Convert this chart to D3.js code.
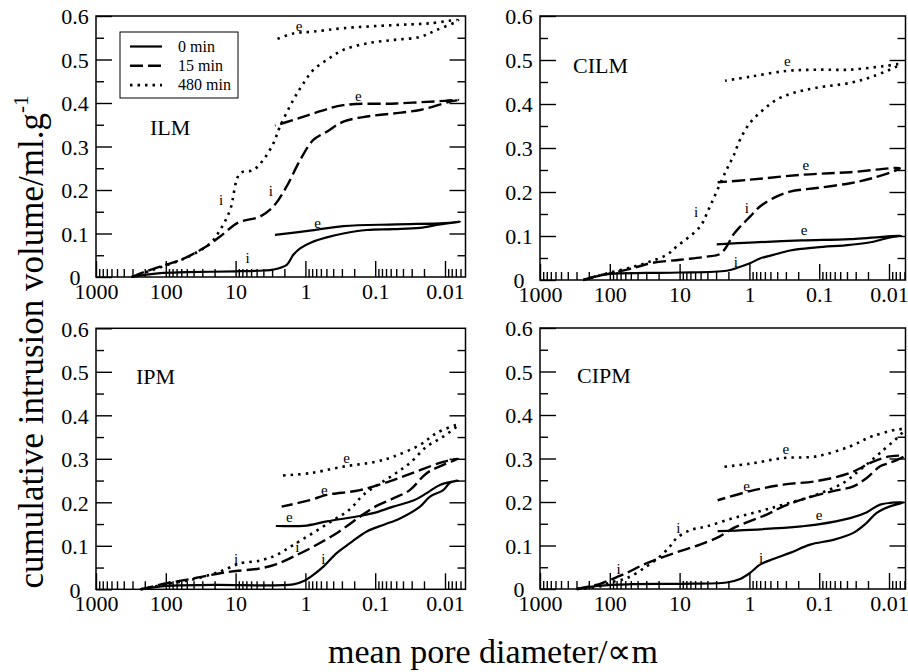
<!DOCTYPE html>
<html><head><meta charset="utf-8">
<script src="https://cdn.jsdelivr.net/npm/d3@7"></script>
<style>body{margin:0;background:#fff} svg{display:block} text{font-family:'Liberation Serif','Times New Roman',Times,serif}</style>
</head><body><svg id="c" width="908" height="672"></svg>
<script>
// ---------- DATA ----------
const categories = ["ILM", "CILM", "IPM", "CIPM"];
const seriesNames = ["0 min", "15 min", "480 min"];
const xTickValues = [1000, 100, 10, 1, 0.1, 0.01];
const xTickLabels = ["1000", "100", "10", "1", "0.1", "0.01"];
const yTickValues = [0, 0.1, 0.2, 0.3, 0.4, 0.5, 0.6];
const yTickLabels = ["0", "0.1", "0.2", "0.3", "0.4", "0.5", "0.6"];
const yMinorValues = [0.05, 0.15, 0.25, 0.35, 0.45, 0.55];

// [mean pore diameter (µm), cumulative volume (ml/g)]
// intrusion: from large to small diameter; extrusion: from small to large diameter
const ilm0In = [[309,0],[200,0.005],[120,0.009],[50,0.011],[10,0.013],[4,0.015],[2.9,0.017],[1.85,0.028],[1.49,0.051],[1.19,0.066],[0.81,0.080],[0.495,0.091],[0.286,0.100],[0.132,0.108],[0.055,0.110],[0.0228,0.113],[0.0118,0.121],[0.0061,0.127]];
const ilm0Ex = [[0.0061,0.127],[0.01,0.124],[0.05,0.121],[0.286,0.117],[0.81,0.107],[2.73,0.097]];
const ilm15In = [[309,0],[200,0.012],[121,0.024],[60,0.040],[29,0.066],[16.7,0.093],[10.8,0.118],[8.65,0.127],[4.47,0.139],[2.88,0.162],[1.86,0.208],[1.19,0.269],[0.77,0.315],[0.495,0.334],[0.286,0.357],[0.132,0.369],[0.055,0.376],[0.0228,0.384],[0.0085,0.403],[0.0065,0.407]];
const ilm15Ex = [[0.0065,0.407],[0.01,0.405],[0.05,0.399],[0.286,0.395],[0.77,0.376],[1.49,0.361],[2.73,0.348]];
const ilm480In = [[309,0],[200,0.010],[121,0.022],[50,0.045],[23.3,0.077],[16.7,0.108],[12,0.154],[8.65,0.238],[5.57,0.246],[4.01,0.269],[2.88,0.307],[2.31,0.346],[1.49,0.407],[1.07,0.445],[0.77,0.476],[0.495,0.499],[0.286,0.522],[0.132,0.537],[0.055,0.545],[0.0228,0.552],[0.0131,0.568],[0.0065,0.59]];
const ilm480Ex = [[0.0065,0.59],[0.017,0.583],[0.055,0.579],[0.286,0.572],[0.77,0.564],[1.49,0.56],[2.73,0.545]];

const cilm0In = [[240,0],[140,0.010],[99,0.014],[30,0.016],[10,0.017],[2.12,0.021],[1.36,0.030],[0.98,0.038],[0.705,0.049],[0.455,0.057],[0.262,0.067],[0.109,0.074],[0.036,0.080],[0.0168,0.087],[0.0097,0.097],[0.0067,0.101]];
const cilm0Ex = [[0.0067,0.101],[0.036,0.093],[0.18,0.090],[0.98,0.085],[2.94,0.081]];
const cilm15In = [[240,0],[138,0.011],[99,0.015],[46,0.027],[26.5,0.038],[9.87,0.046],[4.09,0.053],[2.64,0.059],[2.12,0.076],[1.70,0.103],[1.36,0.121],[0.98,0.144],[0.705,0.167],[0.455,0.186],[0.262,0.201],[0.109,0.209],[0.036,0.220],[0.0168,0.232],[0.007,0.254]];
const cilm15Ex = [[0.007,0.254],[0.036,0.245],[0.18,0.239],[0.98,0.228],[2.85,0.222]];
const cilm480In = [[240,0],[140,0.010],[99,0.017],[46,0.030],[26.5,0.042],[15.3,0.057],[11,0.076],[5.1,0.121],[3.88,0.159],[2.94,0.201],[2.12,0.251],[1.70,0.281],[1.36,0.319],[0.98,0.357],[0.632,0.387],[0.407,0.410],[0.235,0.425],[0.109,0.437],[0.036,0.448],[0.0168,0.463],[0.007,0.490]];
const cilm480Ex = [[0.007,0.490],[0.012,0.486],[0.036,0.478],[0.109,0.478],[0.30,0.475],[0.98,0.462],[2.23,0.453]];

const ipm0In = [[230,0],[97,0.008],[20,0.010],[1.49,0.0115],[1.0,0.021],[0.77,0.033],[0.553,0.052],[0.357,0.083],[0.23,0.106],[0.132,0.133],[0.0766,0.148],[0.0441,0.163],[0.0228,0.190],[0.0164,0.213],[0.0106,0.228],[0.0085,0.245],[0.0065,0.25]];
const ipm0Ex = [[0.0065,0.25],[0.0118,0.240],[0.0183,0.221],[0.0284,0.204],[0.055,0.190],[0.107,0.175],[0.16,0.169],[0.495,0.156],[1.05,0.146],[2.65,0.146]];
const ipm15In = [[230,0],[97,0.0138],[40,0.025],[16.7,0.037],[10,0.042],[4.47,0.048],[2.58,0.058],[1.49,0.075],[0.77,0.098],[0.357,0.129],[0.165,0.167],[0.1,0.19],[0.055,0.209],[0.032,0.228],[0.0183,0.267],[0.0106,0.286],[0.0065,0.30]];
const ipm15Ex = [[0.0065,0.30],[0.0106,0.293],[0.0228,0.274],[0.055,0.251],[0.165,0.228],[0.495,0.217],[0.86,0.205],[2.19,0.19]];
const ipm480In = [[230,0],[97,0.012],[40,0.023],[16.7,0.041],[10,0.056],[8.6,0.060],[4.47,0.066],[2.58,0.079],[1.49,0.102],[0.77,0.130],[0.398,0.159],[0.23,0.184],[0.148,0.217],[0.055,0.263],[0.032,0.290],[0.0183,0.328],[0.0106,0.351],[0.0065,0.378]];
const ipm480Ex = [[0.0065,0.378],[0.013,0.36],[0.0228,0.332],[0.055,0.305],[0.1,0.293],[0.286,0.282],[0.86,0.267],[2.44,0.261]];

const cipm0In = [[298,0],[138,0.0077],[50,0.011],[10,0.012],[2.12,0.015],[1.36,0.023],[0.98,0.037],[0.705,0.056],[0.455,0.069],[0.262,0.083],[0.135,0.102],[0.063,0.113],[0.0324,0.129],[0.0209,0.152],[0.015,0.175],[0.0097,0.19],[0.0062,0.199]];
const cipm0Ex = [[0.0062,0.199],[0.0134,0.194],[0.021,0.176],[0.036,0.163],[0.109,0.148],[0.18,0.144],[0.98,0.136],[2.85,0.133]];
const cipm15In = [[298,0],[138,0.012],[99,0.021],[57.3,0.037],[33.1,0.056],[19.1,0.071],[9.87,0.087],[5.1,0.102],[2.64,0.121],[1.70,0.140],[0.98,0.156],[0.565,0.171],[0.327,0.190],[0.151,0.209],[0.063,0.225],[0.0324,0.236],[0.0209,0.255],[0.0134,0.282],[0.0097,0.290],[0.0062,0.305]];
const cipm15Ex = [[0.0062,0.305],[0.0097,0.305],[0.0168,0.293],[0.036,0.267],[0.109,0.248],[0.327,0.240],[0.98,0.225],[2.85,0.204]];
const cipm480In = [[298,0],[138,0.006],[99,0.015],[57,0.025],[29.6,0.052],[19.1,0.075],[13.7,0.098],[11,0.117],[7.1,0.135],[4.09,0.144],[1.70,0.163],[0.705,0.179],[0.327,0.194],[0.109,0.217],[0.045,0.244],[0.026,0.274],[0.0134,0.313],[0.0062,0.366]];
const cipm480Ex = [[0.0062,0.366],[0.0168,0.352],[0.036,0.328],[0.109,0.305],[0.327,0.301],[0.98,0.288],[2.64,0.280]];

// curve annotations: [diameter, volume, text]
const ilmNotes = [[1.23,0.575,"e"],[0.174,0.414,"e"],[0.67,0.123,"e"],[16.2,0.177,"i"],[3.13,0.196,"i"],[6.75,0.043,"i"]];
const cilmNotes = [[0.286,0.497,"e"],[0.155,0.260,"e"],[0.165,0.112,"e"],[5.82,0.153,"i"],[1.09,0.163,"i"],[1.56,0.039,"i"]];
const ipmNotes = [[0.256,0.301,"e"],[0.535,0.228,"e"],[1.70,0.166,"e"],[9.87,0.069,"i"],[1.30,0.096,"i"],[0.553,0.069,"i"]];
const cipmNotes = [[0.3,0.320,"e"],[1.1,0.236,"e"],[0.1,0.169,"e"],[10.4,0.140,"i"],[75,0.044,"i"],[0.68,0.071,"i"]];

const xTitle = "mean pore diameter/\u221Dm";
const yTitle = "cumulative intrusion volume/ml.g";
const yTitleSup = "-1";

// ---------- LAYOUT ----------
const FONT = "'Liberation Serif','Times New Roman',Times,serif";
const boxes = [
  {l:96, r:465.5, t:16, b:277, lx:54, ly:119},
  {l:540, r:905.5, t:16, b:280, lx:33, ly:57},
  {l:96, r:465.5, t:328.3, b:589.3, lx:40, ly:56},
  {l:540, r:905.5, t:328, b:589, lx:37, ly:55}
];
const DEC = 69.8; // px per decade
const dashes = [null, "13,5", "2.5,5"];
const widths = [2.2, 2.4, 2.6];

const panels = [
  {series:[[ilm0In,ilm0Ex],[ilm15In,ilm15Ex],[ilm480In,ilm480Ex]], notes: ilmNotes},
  {series:[[cilm0In,cilm0Ex],[cilm15In,cilm15Ex],[cilm480In,cilm480Ex]], notes: cilmNotes},
  {series:[[ipm0In,ipm0Ex],[ipm15In,ipm15Ex],[ipm480In,ipm480Ex]], notes: ipmNotes},
  {series:[[cipm0In,cipm0Ex],[cipm15In,cipm15Ex],[cipm480In,cipm480Ex]], notes: cipmNotes}
];

const svg = d3.select("#c");
svg.append("rect").attr("width",908).attr("height",672).attr("fill","#fff");

function styleAxis(sel){
  sel.attr("font-family",null).attr("font-size",null);
  sel.select(".domain").remove();
  sel.selectAll("line").attr("stroke","#000").attr("stroke-width",1.4);
  sel.selectAll("text").style("font-family",FONT).style("font-size","22px").attr("fill","#000");
}

panels.forEach((p,k)=>{
  const b = boxes[k];
  const xmin = Math.pow(10, 3 - (b.r-b.l)/DEC);
  const x = d3.scaleLog().domain([1000, xmin]).range([b.l, b.r]);
  const y = d3.scaleLinear().domain([0, 0.6]).range([b.b, b.t]);
  const g = svg.append("g");

  const minors = [];
  for (let e=-3; e<3; e++) for (let m=2; m<=9; m++){
    const v = m*Math.pow(10,e);
    if (v < 1000 && v > xmin) minors.push(v);
  }
  g.append("g").attr("transform",`translate(0,${b.b})`)
    .call(d3.axisBottom(x).tickValues(minors).tickSize(-8).tickFormat(""))
    .call(styleAxis);
  g.append("g").attr("transform",`translate(0,${b.b})`)
    .call(d3.axisBottom(x).tickValues(xTickValues).tickSize(-16).tickPadding(6).tickFormat((d,i)=>xTickLabels[i]))
    .call(styleAxis);

  g.append("g").attr("transform",`translate(${b.l},0)`)
    .call(d3.axisLeft(y).tickValues(yMinorValues).tickSize(-8).tickFormat(""))
    .call(styleAxis);
  g.append("g").attr("transform",`translate(${b.l},0)`)
    .call(d3.axisLeft(y).tickValues(yTickValues).tickSize(-16).tickFormat((d,i)=>yTickLabels[i]))
    .call(styleAxis)
    .call(s=>s.selectAll("text").attr("text-anchor","middle").attr("x",-21).attr("dy","0.36em"));
  g.append("g").attr("transform",`translate(${b.r},0)`)
    .call(d3.axisRight(y).tickValues(yMinorValues).tickSize(-8).tickFormat(""))
    .call(styleAxis);
  g.append("g").attr("transform",`translate(${b.r},0)`)
    .call(d3.axisRight(y).tickValues(yTickValues.slice(1,-1)).tickSize(-16).tickFormat(""))
    .call(styleAxis);

  g.append("rect").attr("x",b.l).attr("y",b.t).attr("width",b.r-b.l).attr("height",b.b-b.t)
    .attr("fill","none").attr("stroke","#000").attr("stroke-width",1.5);

  const line = d3.line().x(d=>x(d[0])).y(d=>y(d[1])).curve(d3.curveCatmullRom.alpha(0.5));
  p.series.forEach((pair,s)=>{
    const pts = pair[0].concat(pair[1].slice(1));
    g.append("path").datum(pts).attr("d",line)
      .attr("fill","none").attr("stroke","#000").attr("stroke-width",widths[s])
      .attr("stroke-linejoin","round")
      .attr("stroke-dasharray",dashes[s]);
  });

  g.selectAll("text.note").data(p.notes).join("text").attr("class","note")
    .attr("x",d=>x(d[0])).attr("y",d=>y(d[1])).attr("dy","0.3em")
    .attr("text-anchor","middle").style("font-family",FONT).style("font-size","15px").attr("fill","#000")
    .text(d=>d[2]);

  g.append("text").attr("x",b.l+b.lx).attr("y",b.t+b.ly)
    .style("font-family",FONT).style("font-size","22px").text(categories[k]);

  if (k===0){
    const lg = g.append("g");
    lg.append("rect").attr("x",120).attr("y",32).attr("width",118).attr("height",66)
      .attr("fill","#fff").attr("stroke","#000").attr("stroke-width",1);
    seriesNames.forEach((nm,s)=>{
      const yy = 46.5 + s*19.3;
      lg.append("line").attr("x1",130).attr("x2",162).attr("y1",yy).attr("y2",yy)
        .attr("stroke","#000").attr("stroke-width",widths[s]).attr("stroke-dasharray",dashes[s]);
      lg.append("text").attr("x",178).attr("y",yy+5).style("font-family",FONT).style("font-size","16px").text(nm);
    });
  }
});

svg.append("text").attr("x",493).attr("y",663).attr("text-anchor","middle")
  .style("font-family",FONT).style("font-size","34px").text(xTitle);

const yt = svg.append("text").attr("transform","translate(43,342) rotate(-90)")
  .attr("text-anchor","middle").style("font-family",FONT).style("font-size","35px");
yt.append("tspan").text(yTitle);
yt.append("tspan").attr("dy",-15).style("font-size","21px").text(yTitleSup);
</script></body></html>
